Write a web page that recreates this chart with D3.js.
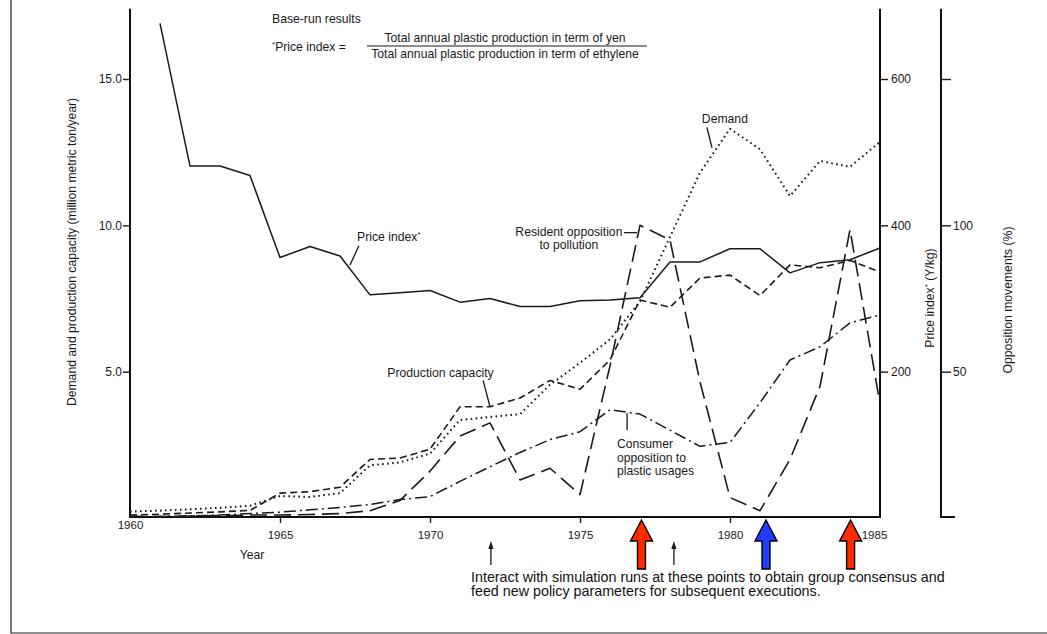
<!DOCTYPE html>
<html lang="en">
  <head>
    <meta charset="utf-8"/>
    <script src="https://d3js.org/d3.v7.min.js"></script>
    <title>Plastic production base-run results</title>
  </head>
  <body>
    <div id="chart_div">
      <svg id="chart"></svg>
    </div>
  </body>
</html>

<style>
  body { margin: 0; background: #fff; }
  #chart { display: block; font-family: "Liberation Sans", Arial, sans-serif; fill: #1a1a1a; }
</style>

<script>
  const width = 1047;
  const height = 634;

  // values
  const years = d3.range(1960, 1986);
  const demand = [0.22, 0.25, 0.3, 0.35, 0.42, 0.75, 0.72, 0.85, 1.8, 1.9, 2.2, 3.35, 3.45, 3.55,
    4.55, 5.3, 6.1, 7.4, 9.6, 11.8, 13.3, 12.6, 11.0, 12.2, 12.0, 12.85];
  const capacity = [0.1, 0.13, 0.17, 0.21, 0.26, 0.85, 0.9, 1.05, 2.0, 2.05, 2.35, 3.8, 3.8, 4.1,
    4.7, 4.4, 5.4, 7.45, 7.2, 8.2, 8.3, 7.6, 8.65, 8.55, 8.8, 8.4];
  const resident = [0.5, 0.5, 0.7, 0.8, 1, 1, 1.2, 1.5, 2.5, 6, 16, 28, 32.5, 13,
    17, 8, 52, 100, 95, 46.5, 7, 2.5, 20, 45, 98.5, 39];
  const consumer = [0.5, 0.5, 0.7, 1, 1.5, 2, 2.8, 3.6, 4.6, 6.3, 7.3, 12.5, 17.5, 22.4,
    26.8, 29.5, 37, 35.5, 30, 24.5, 25.8, 39.4, 54, 58.5, 66.7, 69.4];
  const priceYears = d3.range(1961, 1986);
  const price = [676, 481, 481, 468, 356, 371, 358, 305, 308, 311, 295, 300, 289, 289,
    297, 298, 301, 350, 350, 368, 368, 335, 349, 353, 369];

  const yearTicks = [1960, 1965, 1970, 1975, 1980, 1985];
  const leftTicks = [5, 10, 15];
  const priceTicks = [200, 400, 600];
  const oppTicks = [50, 100, 150];

  // decision points under the time axis
  const redArrows = [1977.05, 1984.02];
  const blueArrows = [1981.2];
  const smallArrows = [1972.03, 1978.13];

  const svg = d3.select("#chart")
    .attr("width", width)
    .attr("height", height);

  svg.append("rect").attr("width", width).attr("height", height).attr("fill", "#fff");

  // page border left / bottom
  svg.append("path")
    .attr("d", "M11,0V633H" + width)
    .attr("fill", "none").attr("stroke", "#222").attr("stroke-width", 1.2);

  const x = d3.scaleLinear().domain([1960, 1985]).range([130, 880]);
  const yL = d3.scaleLinear().domain([0, 15]).range([518, 79]);
  const yP = d3.scaleLinear().domain([0, 600]).range([518, 79]);
  const yO = d3.scaleLinear().domain([0, 150]).range([518, 79]);
  const topVal = 17.4;
  const base = 517;
  const fs = 12.2;

  // axes
  const axisStyle = (g) => {
    g.select(".domain").remove();
    g.selectAll("line").attr("stroke", "#1a1a1a").attr("stroke-width", 1.4);
    g.selectAll("text").attr("font-size", 12).attr("fill", "#1a1a1a");
  };

  svg.append("g")
    .attr("transform", "translate(" + x(1960) + ",0)")
    .call(d3.axisLeft(yL).tickValues(leftTicks).tickFormat(d3.format(".1f")).tickSize(7).tickPadding(1))
    .call(axisStyle);

  svg.append("g")
    .attr("transform", "translate(" + x(1985) + ",0)")
    .call(d3.axisRight(yP).tickValues(priceTicks).tickSize(8).tickPadding(3))
    .call(axisStyle);

  svg.append("g")
    .attr("transform", "translate(941,0)")
    .call(d3.axisRight(yO).tickValues(oppTicks).tickFormat((d) => d === 150 ? "" : d).tickSize(10).tickPadding(2))
    .call(axisStyle);

  const xAxis = svg.append("g")
    .attr("transform", "translate(0," + base + ")")
    .call(d3.axisBottom(x).tickValues(yearTicks).tickFormat(d3.format("d")).tickSize(6).tickPadding(8))
    .call(axisStyle);
  xAxis.selectAll(".tick line").filter((d) => d === 1960 || d === 1985).remove();
  xAxis.selectAll(".tick text").filter((d) => d === 1960).attr("y", 4);
  xAxis.selectAll(".tick text").filter((d) => d === 1985).attr("x", -6);
  xAxis.selectAll(".tick text").attr("font-size", 11.5);

  // heavy axis lines
  const frame = svg.append("g").attr("fill", "none").attr("stroke", "#111").attr("stroke-width", 2);
  frame.append("path").attr("d", "M" + x(1960) + "," + yL(topVal) + "V" + base + "H" + x(1985) + "V" + yL(topVal));
  frame.append("path").attr("d", "M941," + yL(topVal) + "V" + base + "H955");

  // axis titles
  svg.append("text")
    .attr("transform", "translate(76,252) rotate(-90)")
    .attr("text-anchor", "middle").attr("font-size", fs)
    .text("Demand and production capacity (million metric ton/year)");

  const pTitle = svg.append("text")
    .attr("transform", "translate(934,298) rotate(-90)")
    .attr("text-anchor", "middle").attr("font-size", fs);
  pTitle.append("tspan").text("Price index");
  pTitle.append("tspan").attr("font-size", 8).attr("dy", -4).text("*");
  pTitle.append("tspan").attr("dy", 4).text(" (Y/kg)");

  svg.append("text")
    .attr("transform", "translate(1012,300) rotate(-90)")
    .attr("text-anchor", "middle").attr("font-size", fs)
    .text("Opposition movements (%)");

  svg.append("text")
    .attr("x", (x(1960) + x(1970)) / 2 - 28).attr("y", 559)
    .attr("text-anchor", "middle").attr("font-size", fs)
    .text("Year");

  // series
  const lineL = d3.line().x((d) => x(d[0])).y((d) => yL(d[1]));
  const lineP = d3.line().x((d) => x(d[0])).y((d) => yP(d[1]));
  const lineO = d3.line().x((d) => x(d[0])).y((d) => yO(d[1]));

  const series = [
    { values: d3.zip(priceYears, price), gen: lineP, dash: null, w: 1.5 },
    { values: d3.zip(years, demand), gen: lineL, dash: "1.6,3.4", w: 2 },
    { values: d3.zip(years, capacity), gen: lineL, dash: "7,4", w: 1.6 },
    { values: d3.zip(years, resident), gen: lineO, dash: "17,7", w: 1.6 },
    { values: d3.zip(years, consumer), gen: lineO, dash: "12,4,2,4", w: 1.5 }
  ];

  svg.append("g")
    .attr("fill", "none")
    .selectAll("path")
    .data(series)
    .enter()
    .append("path")
      .attr("d", (d) => d.gen(d.values))
      .attr("stroke", "#1a1a1a")
      .attr("stroke-width", (d) => d.w)
      .attr("stroke-linejoin", "round")
      .attr("stroke-dasharray", (d) => d.dash);

  // curve labels (left-axis units)
  const labels = [
    { lines: ["Price index"], star: true, year: 1967.57, val: 9.45, anchor: "start" },
    { lines: ["Demand"], year: 1979.83, val: 13.5, anchor: "middle" },
    { lines: ["Resident opposition", "to pollution"], year: 1974.63, val: 9.65, anchor: "middle" },
    { lines: ["Production capacity"], year: 1970.35, val: 4.83, anchor: "middle" },
    { lines: ["Consumer", "opposition to", "plastic usages"], year: 1976.23, val: 2.38, anchor: "start" }
  ];
  labels.forEach((l) => {
    const t = svg.append("text")
      .attr("x", x(l.year)).attr("y", yL(l.val))
      .attr("text-anchor", l.anchor).attr("font-size", fs);
    l.lines.forEach((s, i) => {
      t.append("tspan").attr("x", x(l.year)).attr("dy", i ? 13.5 : 0).text(s);
    });
    if (l.star) t.append("tspan").attr("font-size", 8).attr("dy", -4).text("*");
  });

  const leaders = [
    [[1967.33, 8.64], [1967.63, 9.3]],
    [[1979.23, 13.35], [1979.4, 12.65]],
    [[1976.47, 9.75], [1976.9, 9.75]],
    [[1971.77, 4.7], [1972.0, 3.8]],
    [[1976.57, 3.58], [1976.57, 3.0]]
  ];
  svg.append("g")
    .selectAll("path")
    .data(leaders)
    .enter()
    .append("path")
      .attr("d", lineL)
      .attr("stroke", "#1a1a1a").attr("stroke-width", 1.3).attr("fill", "none");

  // header note
  const note = svg.append("g").attr("font-size", fs);
  note.append("text").attr("x", 272).attr("y", 23).text("Base-run results");
  const pi = note.append("text").attr("x", 272).attr("y", 51);
  pi.append("tspan").attr("font-size", 8).attr("dy", -4).text("*");
  pi.append("tspan").attr("dy", 4).text("Price index  =");
  note.append("text").attr("x", 505).attr("y", 42).attr("text-anchor", "middle")
    .text("Total annual plastic production in term of yen");
  note.append("line").attr("x1", 367).attr("x2", 647).attr("y1", 46).attr("y2", 46)
    .attr("stroke", "#1a1a1a").attr("stroke-width", 1.2);
  note.append("text").attr("x", 505).attr("y", 58).attr("text-anchor", "middle")
    .text("Total annual plastic production in term of ethylene");

  // arrows under the time axis
  const bigArrow = (cx) => {
    const t = 520;
    return "M" + cx + "," + t + "L" + (cx + 11) + "," + (t + 21) + "H" + (cx + 4) + "V" + (t + 49) +
      "H" + (cx - 4) + "V" + (t + 21) + "H" + (cx - 11) + "Z";
  };
  svg.append("g")
    .selectAll("path")
    .data(redArrows.map((d) => ({ year: d, color: "#ff2a00" }))
      .concat(blueArrows.map((d) => ({ year: d, color: "#1f3cff" }))))
    .enter()
    .append("path")
      .attr("d", (d) => bigArrow(x(d.year)))
      .attr("fill", (d) => d.color)
      .attr("stroke", "#000").attr("stroke-width", 1.4).attr("stroke-linejoin", "miter");

  const small = svg.append("g");
  smallArrows.forEach((yr) => {
    const cx = x(yr);
    small.append("line").attr("x1", cx).attr("x2", cx).attr("y1", 547).attr("y2", 565)
      .attr("stroke", "#1a1a1a").attr("stroke-width", 1.3);
    small.append("path").attr("d", "M" + cx + ",541L" + (cx + 2.6) + ",549H" + (cx - 2.6) + "Z")
      .attr("fill", "#1a1a1a");
  });

  const foot = svg.append("text").attr("font-size", 14.3).attr("fill", "#111");
  foot.append("tspan").attr("x", 471).attr("y", 582)
    .text("Interact with simulation runs at these points to obtain group consensus and");
  foot.append("tspan").attr("x", 471).attr("y", 596)
    .text("feed new policy parameters for subsequent executions.");
</script>
